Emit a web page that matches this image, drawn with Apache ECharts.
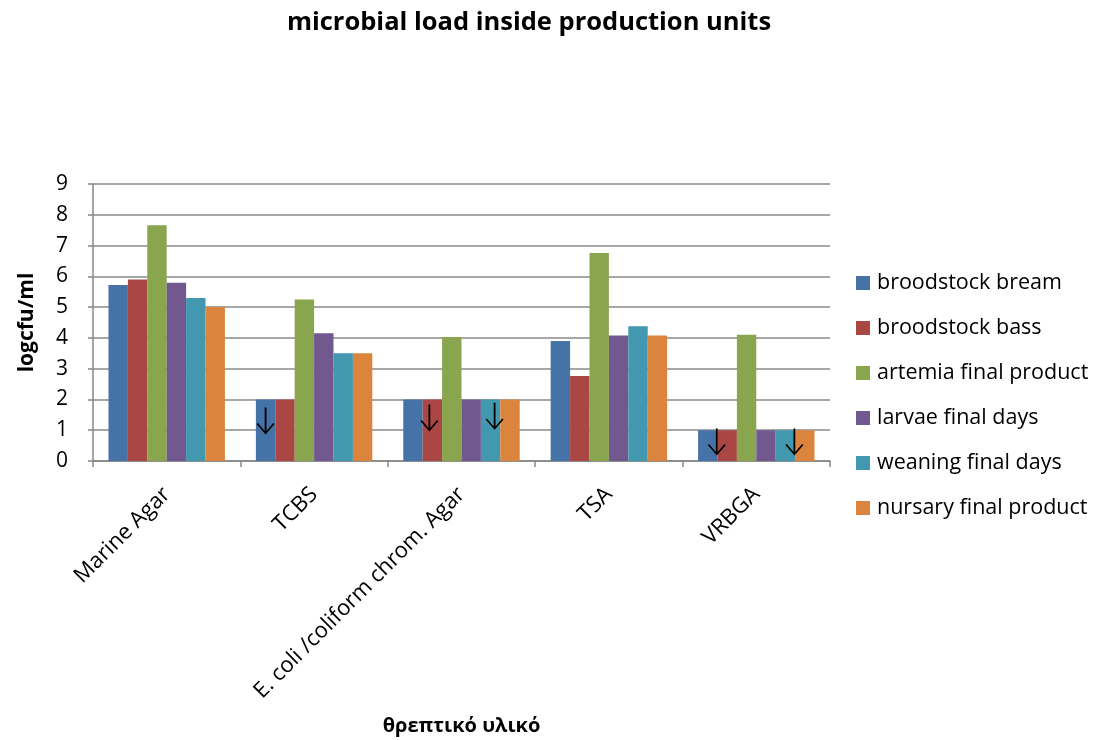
<!DOCTYPE html>
<html>
<head>
<meta charset="utf-8">
<script src="https://cdn.jsdelivr.net/npm/echarts@6/dist/echarts.min.js"></script>
<style>
  html, body { margin: 0; padding: 0; background: #fff; }
  #chart { width: 1106px; height: 740px; }
</style>
</head>
<body>
<div id="chart"></div>
<script>
// Culture media (categories)
const media = ['Marine Agar', 'TCBS', 'E. coli /coliform chrom. Agar', 'TSA', 'VRBGA'];

// log cfu/ml per sampling point
const broodstockBream   = [5.72, 2.0, 2.0, 3.9, 1.0];
const broodstockBass    = [5.9, 2.0, 2.0, 2.76, 1.0];
const artemiaFinal      = [7.66, 5.25, 4.03, 6.76, 4.1];
const larvaeFinal       = [5.79, 4.15, 2.0, 4.08, 1.0];
const weaningFinal      = [5.3, 3.5, 2.0, 4.38, 1.0];
const nursaryFinal      = [5.0, 3.5, 2.0, 4.08, 1.0];

const seriesNames = [
  'broodstock bream', 'broodstock bass', 'artemia final product',
  'larvae final days', 'weaning final days', 'nursary final product'
];
const seriesValues = [broodstockBream, broodstockBass, artemiaFinal, larvaeFinal, weaningFinal, nursaryFinal];
const colors = ['#4572A7', '#AA4643', '#89A54E', '#71588F', '#4198AF', '#DB843D'];

// "below detection limit" markers: [series index, category index, value at arrow centre, x shift]
const belowLimit = [
  [0, 1, 1.3, 0],
  [1, 2, 1.4, -3],
  [4, 2, 1.45, 4],
  [0, 4, 0.62, 9],
  [4, 4, 0.62, 9]
];

const arrowPath = 'path://M9 0 L11 0 L11 35 L18.5 23 L20 24.5 L10 40 L0 24.5 L1.5 23 L9 35 Z';

const font = '"Open Sans", Lato, sans-serif';

const chart = echarts.init(document.getElementById('chart'), null, { renderer: 'canvas' });

const series = seriesNames.map((name, i) => {
  const marks = belowLimit
    .filter(m => m[0] === i)
    .map(m => ({ coord: [m[1], m[2]], symbolOffset: [m[3], 0] }));
  const s = {
    name: name,
    type: 'bar',
    data: seriesValues[i],
    itemStyle: { color: colors[i] },
    barGap: '0%',
    barCategoryGap: '21%'
  };
  if (marks.length) {
    s.markPoint = {
      symbol: arrowPath,
      symbolSize: [18, 27],
      silent: true,
      itemStyle: { color: '#000' },
      label: { show: false },
      data: marks
    };
  }
  return s;
});

chart.setOption({
  animation: false,
  color: colors,
  title: {
    text: 'microbial load inside production units',
    left: 524,
    textAlign: 'center',
    top: 5,
    textStyle: { fontFamily: font, fontWeight: 'bold', fontSize: 25.5, color: '#000' }
  },
  legend: {
    orient: 'vertical',
    left: 851,
    top: 267,
    itemWidth: 14,
    itemHeight: 14,
    itemGap: 23,
    icon: 'rect',
    textStyle: { fontFamily: font, fontSize: 21.5, color: '#000', padding: [0, 0, 0, 2] }
  },
  grid: { left: 93, right: 276, top: 184, bottom: 279, containLabel: false },
  xAxis: {
    type: 'category',
    data: media,
    name: 'θρεπτικό υλικό',
    nameLocation: 'middle',
    nameGap: 255,
    nameTextStyle: { fontFamily: font, fontWeight: 'bold', fontSize: 20, color: '#000' },
    axisLine: { lineStyle: { color: '#868686', width: 1.5 } },
    axisTick: { show: true, length: 6, lineStyle: { color: '#868686', width: 1.5 } },
    axisLabel: { rotate: 45, fontFamily: font, fontSize: 22, color: '#000', margin: 30 }
  },
  yAxis: {
    type: 'value',
    min: 0,
    max: 9,
    interval: 1,
    name: 'logcfu/ml',
    nameLocation: 'middle',
    nameGap: 55,
    nameTextStyle: { fontFamily: font, fontWeight: 'bold', fontSize: 21, color: '#000' },
    axisLine: { show: true, lineStyle: { color: '#868686', width: 1.5 } },
    axisTick: { show: true, length: 5, lineStyle: { color: '#868686', width: 1.5 } },
    axisLabel: { fontFamily: font, fontSize: 21, color: '#000', margin: 25 },
    splitLine: { lineStyle: { color: '#8a8a8a', width: 1.5 } }
  },
  series: series
});
</script>
</body>
</html>
